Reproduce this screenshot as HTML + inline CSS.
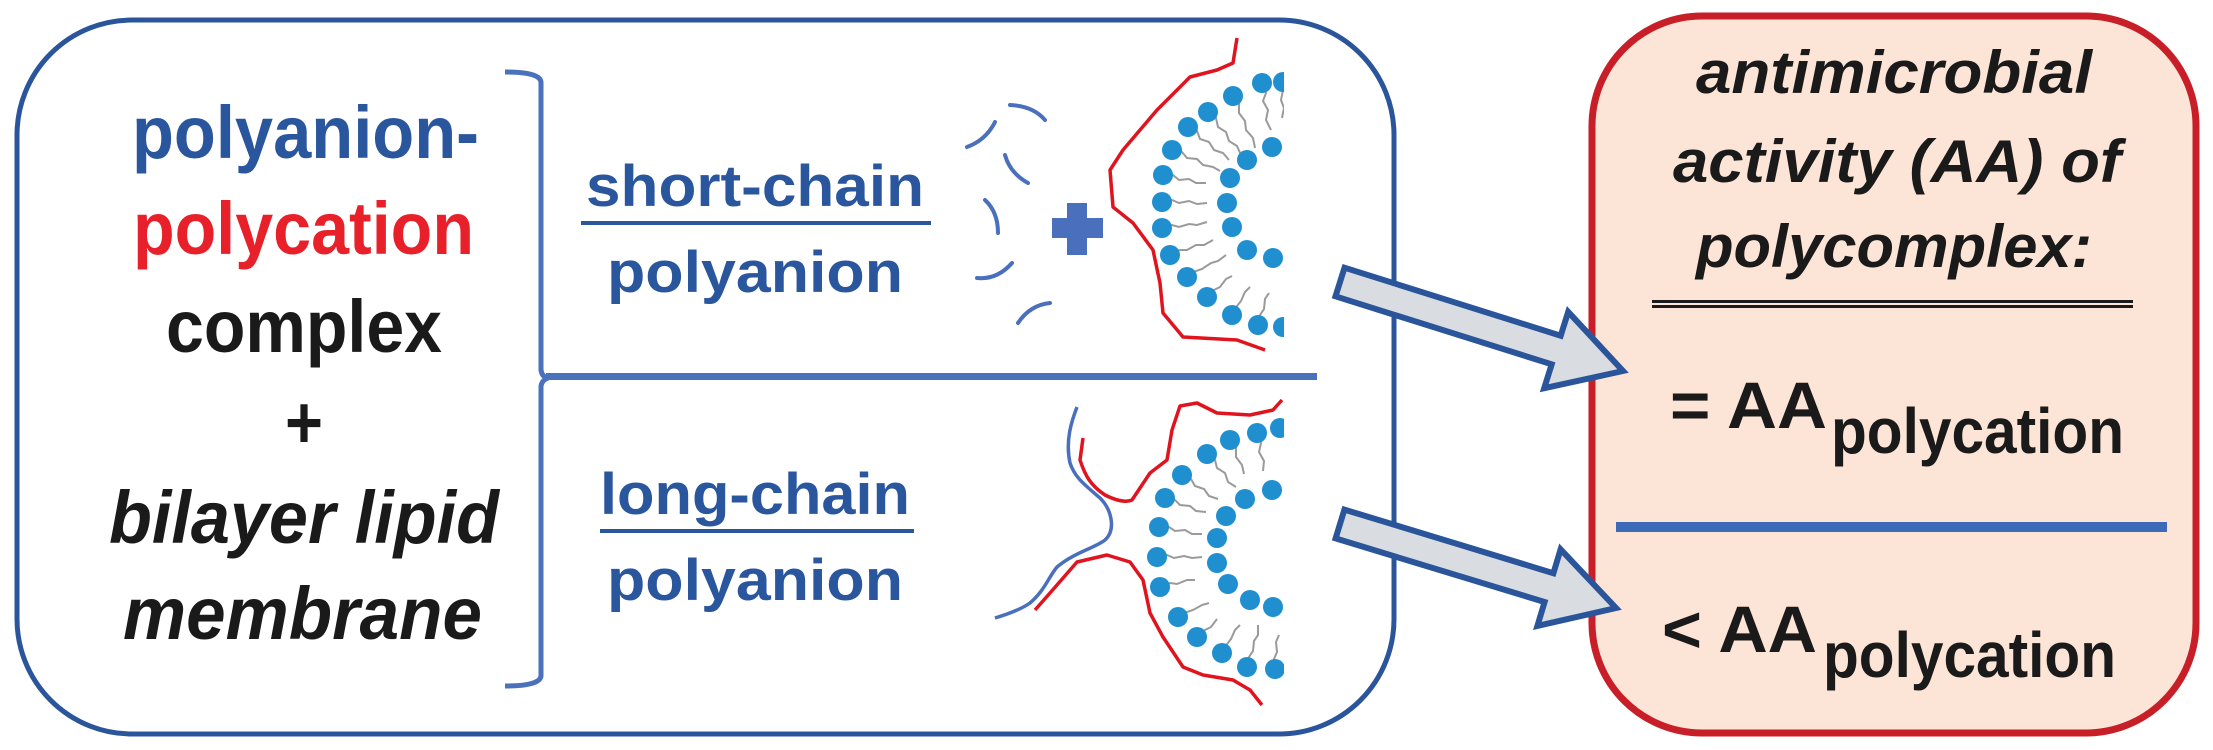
<!DOCTYPE html>
<html><head><meta charset="utf-8"><style>
html,body{margin:0;padding:0;background:#fff;}
svg{display:block;}
text{font-family:"Liberation Sans",sans-serif;font-weight:bold;}
</style></head><body>
<svg width="2213" height="750" viewBox="0 0 2213 750" xmlns="http://www.w3.org/2000/svg">
<defs><clipPath id="c1"><rect x="900" y="0" width="384" height="750"/></clipPath></defs>
<!-- outer blue box -->
<rect x="17" y="20" width="1377" height="714" rx="115" ry="115" fill="#fff" stroke="#2b559b" stroke-width="5"/>
<!-- red box -->
<rect x="1592" y="16" width="604" height="717" rx="110" ry="110" fill="#fce4d6" stroke="#c81e28" stroke-width="7"/>

<!-- left texts -->
<text x="132" y="158" font-size="74" fill="#2a569e" textLength="347" lengthAdjust="spacingAndGlyphs">polyanion-</text>
<text x="133" y="254" font-size="74" fill="#e8202a" textLength="341" lengthAdjust="spacingAndGlyphs">polycation</text>
<text x="166" y="352" font-size="74" fill="#1a1a1a" textLength="276" lengthAdjust="spacingAndGlyphs">complex</text>
<text x="285" y="448" font-size="74" fill="#1a1a1a" textLength="38" lengthAdjust="spacingAndGlyphs">+</text>
<text x="109" y="543" font-size="74" font-style="italic" fill="#1a1a1a" textLength="390" lengthAdjust="spacingAndGlyphs">bilayer lipid</text>
<text x="123" y="639" font-size="74" font-style="italic" fill="#1a1a1a" textLength="359" lengthAdjust="spacingAndGlyphs">membrane</text>

<!-- bracket -->
<path d="M505,72 Q540,72 541,82 L541,370 Q542,377 548,378 Q542,380 541,386 L541,676 Q540,686 505,686" fill="none" stroke="#4a72bc" stroke-width="5"/>
<rect x="546" y="373" width="771" height="7" fill="#4a72bc"/>

<!-- middle labels -->
<text x="586" y="206" font-size="58" fill="#2a569e" textLength="338" lengthAdjust="spacingAndGlyphs">short-chain</text>
<rect x="581" y="221" width="350" height="4" fill="#2a569e"/>
<text x="607" y="292" font-size="58" fill="#2a569e" textLength="296" lengthAdjust="spacingAndGlyphs">polyanion</text>
<text x="600" y="514" font-size="58" fill="#2a569e" textLength="310" lengthAdjust="spacingAndGlyphs">long-chain</text>
<rect x="600" y="529" width="314" height="4" fill="#2a569e"/>
<text x="607" y="600" font-size="58" fill="#2a569e" textLength="296" lengthAdjust="spacingAndGlyphs">polyanion</text>

<!-- upper membrane graphic -->
<g fill="none" stroke="#4a6fbd" stroke-width="4" stroke-linecap="round">
<path d="M1010,105 Q1033,106 1045,120"/>
<path d="M967,147 Q986,140 995,122"/>
<path d="M1005,155 Q1010,173 1028,183"/>
<path d="M985,200 Q998,212 998,233"/>
<path d="M977,278 Q997,280 1012,263"/>
<path d="M1018,323 Q1030,305 1050,303"/>
</g>
<rect x="1052" y="218" width="51" height="20" fill="#4a6fbd"/>
<rect x="1067" y="203" width="20" height="52" fill="#4a6fbd"/>
<g clip-path="url(#c1)">
<g stroke="#9a9a9a" stroke-width="2" fill="none">
<path d="M1262,83 l4,10 l-3,8 l5,9 l-2,10 l5,10"/>
<path d="M1233,96 l6,8 l0,9 l6,8 l1,9 l7,8 l2,10"/>
<path d="M1208,112 l8,6 l2,9 l8,5 l3,9 l8,5 l4,9"/>
<path d="M1188,127 l9,4 l3,8 l9,3 l5,8 l9,3 l6,7"/>
<path d="M1172,150 l10,2 l5,6 l10,1 l6,6 l10,2 l7,4"/>
<path d="M1163,175 l10,0 l6,5 l10,-1 l7,4 l10,0"/>
<path d="M1162,202 l10,-2 l7,3 l10,-2 l8,3 l10,-1"/>
<path d="M1162,228 l10,-3 l7,2 l10,-3 l8,1 l10,-3"/>
<path d="M1170,255 l10,-5 l7,0 l9,-5 l8,0 l9,-5"/>
<path d="M1187,277 l9,-6 l6,-2 l9,-6 l7,-2 l8,-6"/>
<path d="M1207,297 l7,-7 l6,-3 l6,-8 l6,-3"/>
<path d="M1232,315 l5,-9 l4,-5 l4,-9 l5,-5"/>
<path d="M1258,325 l2,-10 l4,-6 l1,-10 l4,-6"/>
<path d="M1283,90 l-2,10 l3,8 l-2,10"/>
</g>
<g fill="#1f8fcf">
<circle cx="1283" cy="82" r="10"/><circle cx="1262" cy="83" r="10"/><circle cx="1233" cy="96" r="10"/>
<circle cx="1208" cy="112" r="10"/><circle cx="1188" cy="127" r="10"/><circle cx="1172" cy="150" r="10"/>
<circle cx="1163" cy="175" r="10"/><circle cx="1162" cy="202" r="10"/><circle cx="1162" cy="228" r="10"/>
<circle cx="1170" cy="255" r="10"/><circle cx="1187" cy="277" r="10"/><circle cx="1207" cy="297" r="10"/>
<circle cx="1232" cy="315" r="10"/><circle cx="1258" cy="325" r="10"/><circle cx="1283" cy="327" r="10"/>
<circle cx="1272" cy="147" r="10"/><circle cx="1247" cy="160" r="10"/><circle cx="1230" cy="178" r="10"/>
<circle cx="1227" cy="203" r="10"/><circle cx="1232" cy="227" r="10"/><circle cx="1247" cy="250" r="10"/>
<circle cx="1273" cy="258" r="10"/>
</g>
<path d="M1237,38 L1233,63 L1217,70 L1190,77 L1157,110 L1123,150 L1110,170 L1113,207 L1133,223 L1153,250 L1160,283 L1163,313 L1183,337 L1237,340 L1265,350" fill="none" stroke="#e0141e" stroke-width="3.5" stroke-linejoin="round"/>

<!-- lower membrane -->
<g stroke="#9a9a9a" stroke-width="2" fill="none">
<path d="M1257,433 l4,10 l-2,9 l5,9 l-1,10"/>
<path d="M1230,440 l6,8 l0,9 l6,8 l2,9"/>
<path d="M1207,454 l8,6 l2,8 l8,5 l3,9 l8,5"/>
<path d="M1182,475 l9,4 l4,7 l9,3 l5,7 l9,3"/>
<path d="M1165,498 l10,2 l5,5 l10,1 l6,5 l10,1"/>
<path d="M1159,527 l10,0 l6,4 l10,-1 l7,4 l10,0"/>
<path d="M1157,557 l10,-2 l7,3 l10,-2 l8,2 l10,-1"/>
<path d="M1160,587 l10,-4 l7,1 l10,-4 l8,0"/>
<path d="M1178,617 l9,-5 l6,-2 l9,-5 l7,-2"/>
<path d="M1197,637 l8,-7 l6,-3 l6,-8"/>
<path d="M1222,653 l5,-9 l4,-5 l4,-9 l5,-5"/>
<path d="M1247,667 l2,-10 l4,-6 l1,-10 l4,-6 l0,-10"/>
<path d="M1275,669 l-1,-10 l3,-7 l-1,-10 l3,-7"/>
</g>
<g fill="#1f8fcf">
<circle cx="1280" cy="428" r="10"/><circle cx="1257" cy="433" r="10"/><circle cx="1230" cy="440" r="10"/>
<circle cx="1207" cy="454" r="10"/><circle cx="1182" cy="475" r="10"/><circle cx="1165" cy="498" r="10"/>
<circle cx="1159" cy="527" r="10"/><circle cx="1157" cy="557" r="10"/><circle cx="1160" cy="587" r="10"/>
<circle cx="1178" cy="617" r="10"/><circle cx="1197" cy="637" r="10"/><circle cx="1222" cy="653" r="10"/>
<circle cx="1247" cy="667" r="10"/><circle cx="1275" cy="669" r="10"/>
<circle cx="1272" cy="490" r="10"/><circle cx="1245" cy="499" r="10"/><circle cx="1226" cy="516" r="10"/>
<circle cx="1217" cy="538" r="10"/><circle cx="1217" cy="563" r="10"/><circle cx="1228" cy="584" r="10"/>
<circle cx="1250" cy="600" r="10"/><circle cx="1273" cy="607" r="10"/>
</g>
</g>
<path d="M1077,407 C1072,420 1065,440 1070,463 C1075,478 1085,485 1100,498 C1112,510 1116,530 1105,540 C1095,548 1075,552 1057,567 C1048,578 1045,590 1030,603 C1020,610 1005,615 995,618" fill="none" stroke="#4a6fbd" stroke-width="3.5"/>
<path d="M1083,438 L1080,460 C1085,475 1090,485 1105,495 C1115,500 1125,503 1132,500 L1140,488 L1150,473 L1167,460 L1172,430 L1180,406 L1197,403 L1217,413 L1250,415 L1273,410 L1282,400" fill="none" stroke="#e0141e" stroke-width="3.5" stroke-linejoin="round"/>
<path d="M1035,610 L1050,593 L1077,562 L1107,555 L1130,562 L1143,580 L1150,613 L1163,637 L1183,667 L1203,675 L1233,680 L1250,690 L1262,705" fill="none" stroke="#e0141e" stroke-width="3.5" stroke-linejoin="round"/>

<!-- arrows -->
<polygon points="1344.5,267.7 1560.7,335.7 1568.2,311.8 1623,371 1544.2,388.2 1551.7,364.3 1335.5,296.3" fill="#d9dce0" stroke="#2b559b" stroke-width="6" stroke-linejoin="miter"/>
<polygon points="1344.4,509.6 1553.4,573.2 1560.6,549.3 1616,608 1537.4,625.9 1544.6,602 1335.6,538.4" fill="#d9dce0" stroke="#2b559b" stroke-width="6" stroke-linejoin="miter"/>

<!-- red box text -->
<text x="1696" y="93" font-size="60" font-style="italic" fill="#1a1a1a" textLength="396" lengthAdjust="spacingAndGlyphs">antimicrobial</text>
<text x="1673" y="182" font-size="60" font-style="italic" fill="#1a1a1a" textLength="448" lengthAdjust="spacingAndGlyphs">activity (AA) of</text>
<text x="1696" y="267" font-size="60" font-style="italic" fill="#1a1a1a" textLength="396" lengthAdjust="spacingAndGlyphs">polycomplex:</text>
<rect x="1652" y="300" width="481" height="3" fill="#1a1a1a"/>
<rect x="1652" y="305" width="481" height="3" fill="#1a1a1a"/>
<text x="1670" y="428" font-size="66" fill="#1a1a1a" textLength="157" lengthAdjust="spacingAndGlyphs">= AA</text>
<text x="1831" y="453" font-size="64" fill="#1a1a1a" textLength="293" lengthAdjust="spacingAndGlyphs">polycation</text>
<rect x="1616" y="522" width="551" height="10" fill="#3d6bb8"/>
<text x="1662" y="652" font-size="66" fill="#1a1a1a" textLength="155" lengthAdjust="spacingAndGlyphs">&lt; AA</text>
<text x="1823" y="677" font-size="64" fill="#1a1a1a" textLength="293" lengthAdjust="spacingAndGlyphs">polycation</text>
</svg>
</body></html>
